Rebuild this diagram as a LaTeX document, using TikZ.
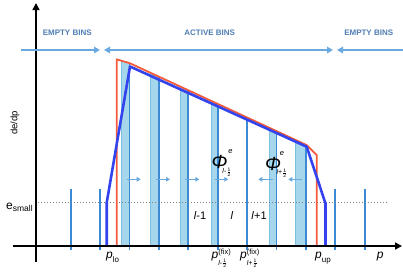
\documentclass[tikz,border=0pt]{standalone}
\usepackage{amsmath}
\usepackage{fontspec}
\setmainfont{Liberation Sans}
\usepackage{xcolor}
\usepackage{tikz}
\usetikzlibrary{arrows.meta}

\definecolor{binlabel}{HTML}{4F7DB3}
\definecolor{headblue}{HTML}{6AA8E0}
\definecolor{edgeblue}{HTML}{3D8AD4}
\definecolor{stripfill}{HTML}{A6D6EC}
\definecolor{stripline}{HTML}{7DBFE3}
\definecolor{cutred}{HTML}{F25A3A}
\definecolor{specblue}{HTML}{3344EE}

\newcommand\pxfont[1]{\fontsize{#1}{#1}\selectfont}
\newcommand\halfsub[1]{{\itshape l}#1$\frac{\text{1}}{\text{2}}$}
\newcommand\fixlabel[1]{{\pxfont{12}\itshape p}%
  \rlap{\raisebox{3.5pt}{\pxfont{7.5}(fix)}}%
  \raisebox{-7pt}{\pxfont{7}\halfsub{#1}}}

\begin{document}
\begin{tikzpicture}[
    x=1pt,y=-1pt,
    axis/.style={line width=1.6pt,-{Triangle[length=7pt,width=7pt]}},
    header/.style={headblue,line width=1.5pt},
    headtip/.style={-{Triangle[length=6pt,width=6.5pt]}},
    bothtips/.style={{Triangle[length=6pt,width=6.5pt]}-{Triangle[length=6pt,width=6.5pt]}},
    binedge/.style={edgeblue,line width=1.8pt},
    strip/.style={fill=stripfill,draw=stripline,line width=0.5pt},
    flux/.style={headblue,line width=1.2pt,-{Triangle[length=4pt,width=4.5pt]}},
    cutoff/.style={cutred,line width=1.8pt,line join=round},
    spectrum/.style={specblue,line width=2.6pt,line join=round},
    threshold/.style={gray,line width=1pt,dotted},
    binname/.style={binlabel,font=\pxfont{8}\bfseries},
    every node/.style={inner sep=0pt}
]
    \useasboundingbox (0,0) rectangle (403,271);

    % Shaded flux strips and interior bin edges, cut off by the red spectrum.
    \begin{scope}
        \clip (116.7,250) -- (116.7,59.3) -- (130,63.3) -- (306.5,145)
              -- (316.7,155) -- (316.7,250) -- cycle;
        \foreach \a/\b in {121.7/129.3,150.7/158.7,180/188.3,211/217.7,
                           269.5/276.5,295/305.9}
            \draw[strip] (\a,245) rectangle (\b,40);
        \foreach \k in {2,...,8}
            \draw[binedge] ({70.7+29.4*\k},250) -- ({70.7+29.4*\k},40);
    \end{scope}

    % Edges of the empty bins on either side.
    \foreach \x in {70.7,100.1,335.3,364.7}
        \draw[binedge] (\x,189) -- (\x,250);

    % Lower energy threshold.
    \draw[threshold] (35,202.7) -- (388,202.7);

    % Exact and reconstructed spectra.
    \draw[cutoff] (116.7,245) -- (116.7,59.3) -- (130,63.3) -- (306.5,145)
        -- (316.7,155) -- (316.7,245);
    \draw[spectrum] (106.7,245) -- (106.7,202.7) -- (130,66.5)
        -- (306.7,146.7) -- (325.5,203.5) -- (325.5,245);

    % Fluxes across the bin boundaries.
    \foreach \a/\b in {126.7/140.7,156/170,185/199.3,215/228.3,
                       272.7/258.3,301.7/288.3}
        \draw[flux] (\a,179.3) -- (\b,179.3);

    % Axes.
    \draw[axis] (36,262) -- (36,3);
    \draw[axis] (13,246) -- (402,246);

    % Bin ranges along the top.
    \draw[header,headtip] (21,50) -- (100,50);
    \draw[header,bothtips] (104,50) -- (333,50);
    \draw[header,headtip] (403,50) -- (337,50);
    \node[binname] (emptyLeft)  at (67.2,33)  {EMPTY BINS};
    \node[binname] (activeBins) at (209.7,33) {ACTIVE BINS};
    \node[binname] (emptyRight) at (368.7,33) {EMPTY BINS};

    % Axis labels.
    \node[rotate=90,font=\pxfont{9.5}] (ylabel) at (15,123) {de/dp};
    \node[anchor=base west] (esmall) at (6,209.3)
        {\pxfont{12}e\pxfont{8.5}\raisebox{-2.5pt}{small}};

    % Flux symbols.
    \node[anchor=base west,font=\pxfont{19}\itshape] (phiLeft) at (211.5,168) {Φ};
    \node[font=\pxfont{7.5}\itshape] (phiLeftSup) at (230.5,151.5) {e};
    \node[font=\pxfont{7}] (phiLeftSub) at (227,172) {\halfsub{-}};
    \node[anchor=base west,font=\pxfont{19}\itshape] (phiRight) at (265,170) {Φ};
    \node[font=\pxfont{7.5}\itshape] (phiRightSup) at (282,154) {e};
    \node[font=\pxfont{7}] (phiRightSub) at (282,173) {\halfsub{+}};

    % Bin indices.
    \node[font=\pxfont{11}] (binPrev) at (200,216) {\textit{l}-1};
    \node[font=\pxfont{11}] (binCur)  at (232,216) {\textit{l}};
    \node[font=\pxfont{11}] (binNext) at (259,216) {\textit{l}+1};

    % Momentum labels.
    \node[anchor=base west] (plo) at (106,258)
        {{\pxfont{12}\itshape p}{\pxfont{8}\raisebox{-4pt}{lo}}};
    \node[anchor=base west] (pup) at (315,258)
        {{\pxfont{12}\itshape p}{\pxfont{8}\raisebox{-4pt}{up}}};
    \node[anchor=base west,font=\pxfont{12}\itshape] (paxis) at (376.7,258) {p};
    \node[anchor=base west] (pfixLeft)  at (211.5,258) {\fixlabel{-}};
    \node[anchor=base west] (pfixRight) at (240,258)   {\fixlabel{+}};
\end{tikzpicture}
\end{document}
